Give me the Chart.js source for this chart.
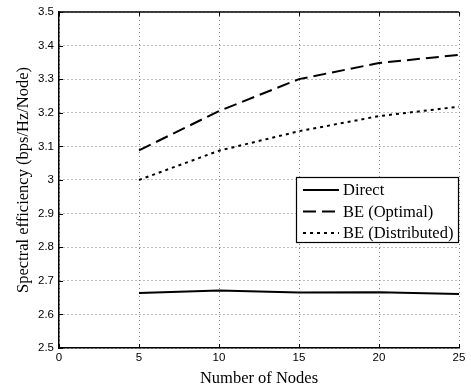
<!DOCTYPE html>
<html><head><meta charset="utf-8">
<script src="https://cdn.jsdelivr.net/npm/chart.js@4/dist/chart.umd.min.js"></script>
<style>html,body{margin:0;padding:0;background:#fff}#wrap{width:471px;height:390px}</style>
</head><body><div id="wrap"><canvas id="c" width="471" height="390"></canvas></div>
<script>
const nodes = [5, 10, 15, 20, 25];
const direct = [2.664, 2.671, 2.665, 2.666, 2.661];
const beOptimal = [3.088, 3.205, 3.300, 3.348, 3.372];
const beDistributed = [3.000, 3.087, 3.145, 3.190, 3.218];
const seriesNames = ['Direct', 'BE (Optimal)', 'BE (Distributed)'];
const xTicks = [0, 5, 10, 15, 20, 25];
const yTicks = [2.5, 2.6, 2.7, 2.8, 2.9, 3.0, 3.1, 3.2, 3.3, 3.4, 3.5];

const dashes = [[], [13, 6], [3, 4]];
const seriesVals = [direct, beOptimal, beDistributed];
const serif = '"Liberation Serif", "Times New Roman", serif';

const legendPlugin = {
  id: 'boxLegend',
  afterDraw(chart) {
    const ctx = chart.ctx, a = chart.chartArea;
    const xs = chart.scales.x, ys = chart.scales.y;
    ctx.save();
    ctx.strokeStyle = '#000'; ctx.lineWidth = 1.5; ctx.setLineDash([]);
    ctx.beginPath(); ctx.moveTo(a.left, a.top); ctx.lineTo(a.right, a.top); ctx.stroke();
    // inward tick marks
    ctx.lineWidth = 1;
    ctx.beginPath();
    xTicks.forEach(v => {
      const px = Math.round(xs.getPixelForValue(v)) + 0.5;
      ctx.moveTo(px, a.bottom); ctx.lineTo(px, a.bottom - 4);
      ctx.moveTo(px, a.top); ctx.lineTo(px, a.top + 4);
    });
    yTicks.forEach(v => {
      const py = Math.round(ys.getPixelForValue(v)) + 0.5;
      ctx.moveTo(a.left, py); ctx.lineTo(a.left + 4, py);
    });
    ctx.stroke();
    // legend box
    const w = 163, h = 66;
    const x0 = a.right - w, y0 = 177;
    ctx.fillStyle = '#fff'; ctx.fillRect(x0, y0, w, h);
    ctx.lineWidth = 1.2; ctx.strokeRect(x0 + 0.5, y0 + 0.5, w - 1, h - 1);
    ctx.font = '16.5px ' + serif;
    ctx.textBaseline = 'middle'; ctx.fillStyle = '#000';
    seriesNames.forEach((n, i) => {
      const yy = y0 + 13 + i * 21.5;
      ctx.setLineDash(dashes[i]); ctx.lineWidth = 2;
      ctx.beginPath(); ctx.moveTo(x0 + 7, yy); ctx.lineTo(x0 + 43, yy); ctx.stroke();
      ctx.fillText(n, x0 + 47, yy + 1);
    });
    ctx.restore();
  }
};

new Chart(document.getElementById('c'), {
  type: 'line',
  data: {
    datasets: seriesVals.map((vals, i) => ({
      label: seriesNames[i],
      data: nodes.map((n, k) => ({x: n, y: vals[k]})),
      borderColor: '#000', backgroundColor: '#000',
      borderWidth: 2, borderDash: dashes[i], pointRadius: 0, tension: 0, fill: false
    }))
  },
  options: {
    responsive: false, animation: false,
    layout: {padding: {top: 10, right: 12, left: 14, bottom: 0}},
    plugins: {legend: {display: false}, tooltip: {enabled: false}},
    scales: {
      x: {
        type: 'linear', min: 0, max: 25,
        afterBuildTicks: s => { s.ticks = xTicks.map(v => ({value: v})); },
        afterFit: s => { s.height = 42; },
        grid: {color: '#777', lineWidth: 1, drawTicks: false},
        border: {display: true, color: '#000', width: 1.5, dash: [1, 3]},
        ticks: {color: '#000', font: {family: '"Liberation Sans", Arial, sans-serif', size: 11.5}, padding: 3, maxRotation: 0},
        title: {display: true, text: 'Number of Nodes', color: '#000', font: {family: serif, size: 16.5}, padding: {top: 0, bottom: 1}}
      },
      y: {
        type: 'linear', min: 2.5, max: 3.5,
        afterBuildTicks: s => { s.ticks = yTicks.map(v => ({value: v})); },
        afterFit: s => { s.width = 45; },
        grid: {color: '#777', lineWidth: 1, drawTicks: false},
        border: {display: true, color: '#000', width: 1.5, dash: [1, 3]},
        ticks: {color: '#000', font: {family: '"Liberation Sans", Arial, sans-serif', size: 11.5}, padding: 5,
          callback: v => String(Number(v.toFixed(1)))},
        title: {display: true, text: 'Spectral efficiency (bps/Hz/Node)', color: '#000', font: {family: serif, size: 16.5}, padding: {top: 0, bottom: 0}}
      }
    }
  },
  plugins: [legendPlugin]
});
</script></body></html>
